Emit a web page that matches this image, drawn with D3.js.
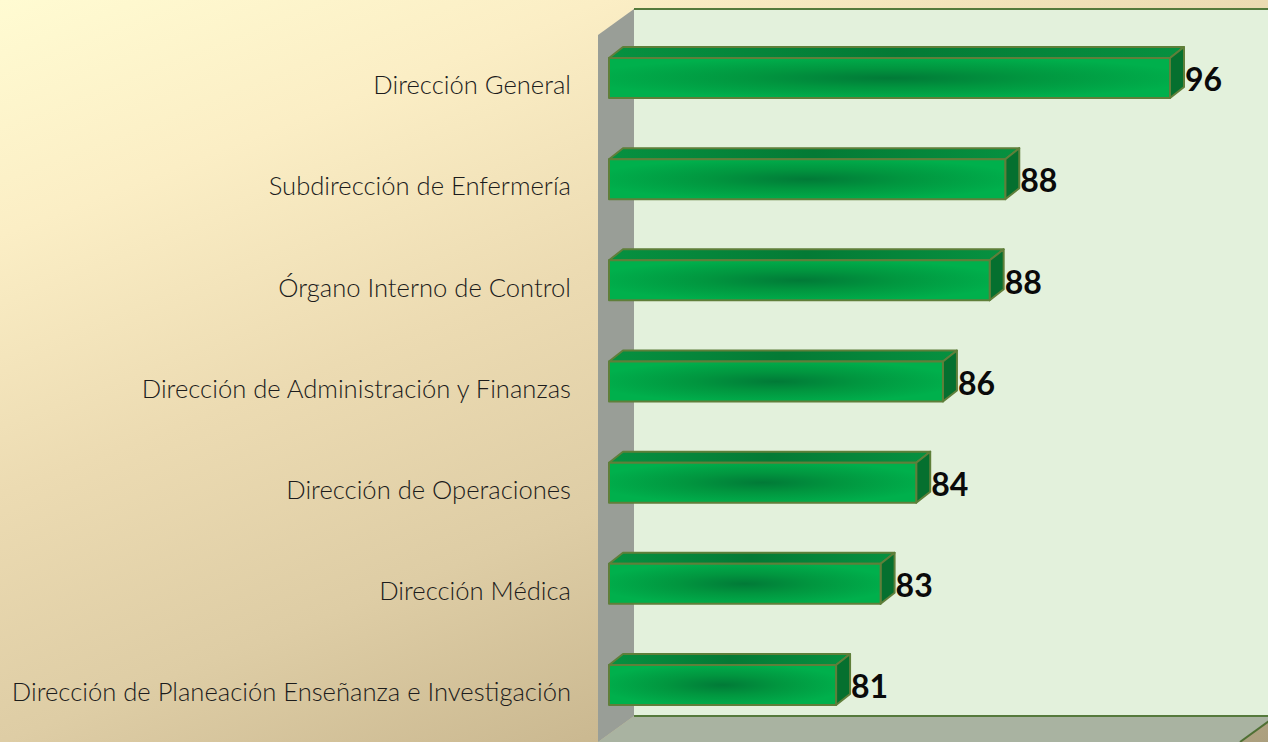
<!DOCTYPE html>
<html>
<head>
<meta charset="utf-8">
<script src="https://cdn.jsdelivr.net/npm/d3@7"></script>
<style>
  html, body { margin: 0; padding: 0; overflow: hidden; }
  svg { display: block; }
</style>
</head>
<body>
<svg></svg>
<script>
// Chart data
const categories = [
    "Dirección General",
    "Subdirección de Enfermería",
    "Órgano Interno de Control",
    "Dirección de Administración y Finanzas",
    "Dirección de Operaciones",
    "Dirección Médica",
    "Dirección de Planeación Enseñanza e Investigación"
];
// bar lengths go with the unrounded values, the labels show the printed numbers
const values = [96, 88.6, 87.9, 85.8, 84.6, 83, 81];
const valueLabels = ["96", "88", "88", "86", "84", "83", "81"];

const width = 1268, height = 742;
const depthX = 14, depthY = 11;

const svg = d3.select("svg")
    .attr("width", width)
    .attr("height", height);

const defs = svg.append("defs");

// Page background
const bgGrad = defs.append("linearGradient")
    .attr("id", "bg")
    .attr("gradientUnits", "userSpaceOnUse")
    .attr("x1", 0).attr("y1", 0)
    .attr("x2", 418).attr("y2", 1074);
[[0, "#fffbd2"], [0.19, "#fbeec5"], [0.4, "#ecdbb2"], [0.6, "#decda5"], [0.8, "#c9b78f"], [1, "#ab9f7e"]]
    .forEach(s => bgGrad.append("stop").attr("offset", s[0]).attr("stop-color", s[1]));

// Front face of the bars: dark spot in the middle
const barGrad = defs.append("radialGradient")
    .attr("id", "barFront")
    .attr("cx", "50%").attr("cy", "50%").attr("r", "55%");
[[0, "#017a37"], [0.45, "#01963f"], [1, "#00b04c"]]
    .forEach(s => barGrad.append("stop").attr("offset", s[0]).attr("stop-color", s[1]));

const topGrad = defs.append("linearGradient")
    .attr("id", "barTop");
[[0, "#069140"], [0.5, "#047a35"], [1, "#069140"]]
    .forEach(s => topGrad.append("stop").attr("offset", s[0]).attr("stop-color", s[1]));

svg.append("rect")
    .attr("width", width)
    .attr("height", height)
    .attr("fill", "url(#bg)");

// Scales
const x = d3.scaleLinear()
    .domain([70.8, 96])
    .range([609, 1170]);

const y = d3.scaleBand()
    .domain(categories)
    .range([58, 705])
    .paddingInner(0.6046)
    .paddingOuter(0);

// 3D frame: back wall, left wall, floor
const wallLeft = 634, wallTop = 9, wallBottom = 716;
const frameX = 36, frameY = 26;

svg.append("rect")
    .attr("x", wallLeft)
    .attr("y", wallTop)
    .attr("width", width - wallLeft)
    .attr("height", wallBottom - wallTop)
    .attr("fill", "#e3f1dc");

svg.append("path")
    .attr("d", d3.line()([
        [wallLeft, wallTop], [wallLeft, wallBottom],
        [wallLeft - frameX, wallBottom + frameY], [wallLeft - frameX, wallTop + frameY]
    ]) + "Z")
    .attr("fill", "#999e97");

svg.append("path")
    .attr("d", d3.line()([
        [wallLeft, wallBottom], [width + 8, wallBottom],
        [width + 8 - frameX, wallBottom + frameY], [wallLeft - frameX, wallBottom + frameY]
    ]) + "Z")
    .attr("fill", "#a9b3a1");

svg.append("path")
    .attr("d", d3.line()([[width + 8, wallBottom], [width + 8 - frameX, wallBottom + frameY]]))
    .attr("stroke", "#4f7034")
    .attr("stroke-width", 2);

svg.append("path")
    .attr("d", d3.line()([[wallLeft, wallTop], [width, wallTop]]))
    .attr("stroke", "#557a3c")
    .attr("stroke-width", 2);

svg.append("path")
    .attr("d", d3.line()([[wallLeft, wallBottom], [width, wallBottom]]))
    .attr("stroke", "#557a3c")
    .attr("stroke-width", 2);

// Category labels through a left axis
const axis = svg.append("g")
    .attr("transform", `translate(571,8)`)
    .call(d3.axisLeft(y).tickSize(0).tickPadding(0));
axis.select(".domain").remove();
axis.selectAll("text")
    .attr("font-family", "Lato")
    .attr("font-weight", 300)
    .attr("font-size", 25.6)
    .attr("fill", "#1c1c1c");

// Bars
const data = categories.map((c, i) => ({ name: c, value: values[i], label: valueLabels[i] }));
const x0 = x.range()[0];

const bars = svg.selectAll(".bar")
    .data(data)
    .enter().append("g")
    .attr("class", "bar")
    .attr("stroke", "#5f7f3a")
    .attr("stroke-width", 2)
    .attr("stroke-linejoin", "round");

// top face
bars.append("path")
    .attr("fill", "url(#barTop)")
    .attr("d", d => d3.line()([
        [x0, y(d.name)],
        [x0 + depthX, y(d.name) - depthY],
        [x(d.value) + depthX, y(d.name) - depthY],
        [x(d.value), y(d.name)]
    ]) + "Z");

// right face
bars.append("path")
    .attr("fill", "#05702f")
    .attr("d", d => d3.line()([
        [x(d.value), y(d.name)],
        [x(d.value) + depthX, y(d.name) - depthY],
        [x(d.value) + depthX, y(d.name) + y.bandwidth() - depthY],
        [x(d.value), y(d.name) + y.bandwidth()]
    ]) + "Z");

// front face
bars.append("rect")
    .attr("x", x0)
    .attr("y", d => y(d.name))
    .attr("width", d => x(d.value) - x0)
    .attr("height", y.bandwidth())
    .attr("fill", "url(#barFront)");

// Value labels
svg.selectAll(".value")
    .data(data)
    .enter().append("text")
    .attr("class", "value")
    .attr("x", d => x(d.value) + 15)
    .attr("y", d => y(d.name) + y.bandwidth() / 2 + 2)
    .attr("dy", "0.35em")
    .attr("font-family", "Lato")
    .attr("font-weight", 700)
    .attr("font-size", 32)
    .attr("fill", "#0a0a0a")
    .text(d => d.label);
</script>
</body>
</html>
